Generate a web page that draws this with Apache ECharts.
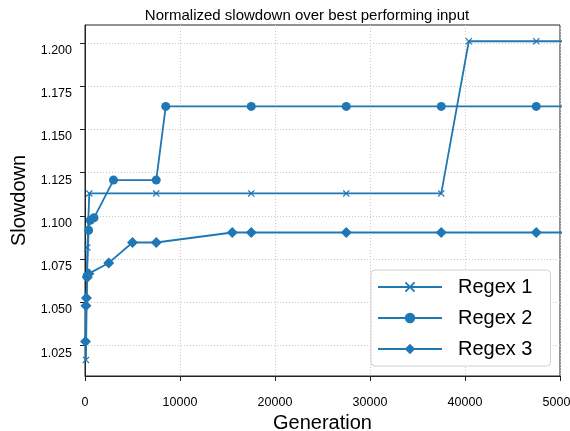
<!DOCTYPE html>
<html>
<head>
<meta charset="utf-8">
<script src="https://cdn.jsdelivr.net/npm/echarts@6/dist/echarts.min.js"></script>
<style>html,body{margin:0;padding:0;background:#fff}#c{width:570px;height:431px}</style>
</head>
<body>
<div id="c"></div>
<script>
const titleText = 'Normalized slowdown over best performing input';
const xName = 'Generation';
const yName = 'Slowdown';
const seriesNames = ['Regex 1', 'Regex 2', 'Regex 3'];
const yTicks = [1.025, 1.050, 1.075, 1.100, 1.125, 1.150, 1.175, 1.200];

const regex1 = [[100,1.0167],[250,1.0817],[450,1.113],[7500,1.113],[17500,1.113],[27500,1.113],[37500,1.113],[40400,1.201],[47500,1.201],[57500,1.201]];
const regex2 = [[200,1.065],[380,1.0917],[550,1.0975],[950,1.0989],[3000,1.1207],[7500,1.1207],[8500,1.1633],[17500,1.1633],[27500,1.1633],[37500,1.1633],[47500,1.1633],[57500,1.1633]];
const regex3 = [[50,1.0273],[100,1.048],[150,1.0525],[250,1.0645],[400,1.0666],[2500,1.0728],[5000,1.0846],[7500,1.0846],[15500,1.0904],[17500,1.0904],[27500,1.0904],[37500,1.0904],[47500,1.0904],[57500,1.0904]];

const color = '#1f77b4';
const font = 'Liberation Sans, Arial, Helvetica, sans-serif';
const xSym = 'path://M0,1.2L1.2,0L5,3.8L8.8,0L10,1.2L6.2,5L10,8.8L8.8,10L5,6.2L1.2,10L0,8.8L3.8,5Z';

function mk(name, data, symbol, size) {
  return {
    name, type: 'line', data, symbol, symbolSize: size, showSymbol: true,
    clip: true,
    lineStyle: { color, width: 1.8 },
    itemStyle: { color },
    emphasis: { disabled: true }
  };
}

const chart = echarts.init(document.getElementById('c'), null, { renderer: 'canvas' });
chart.setOption({
  animation: false,
  textStyle: { fontFamily: font },
  title: {
    text: titleText, left: 302, top: 3, textAlign: 'center',
    textStyle: { fontFamily: font, fontSize: 15, fontWeight: 'normal', color: '#000' }
  },
  grid: { left: 85, right: 10, top: 25, bottom: 55, show: true, borderColor: '#222', borderWidth: 1,
    backgroundColor: 'transparent', containLabel: false, outerBoundsMode: 'none' },
  legend: {
    orient: 'vertical', left: 371, top: 270,
    data: seriesNames,
    itemWidth: 64, itemHeight: 13, itemGap: 11,
    padding: [7, 18, 7, 6],
    backgroundColor: '#fff', borderColor: '#d0d0d0', borderWidth: 1, borderRadius: 4,
    textStyle: { fontFamily: font, fontSize: 20, color: '#000', lineHeight: 20, padding: [0, 0, 0, 11] }
  },
  xAxis: {
    type: 'value', min: 0, max: 50000, interval: 10000,
    name: xName, nameLocation: 'middle', nameGap: 37,
    nameTextStyle: { fontFamily: font, fontSize: 20, color: '#000' },
    axisLine: { show: true, lineStyle: { color: '#222', width: 1 } },
    axisTick: { show: true, inside: false, length: 5, lineStyle: { color: '#222' } },
    axisLabel: { fontFamily: font, fontSize: 12.5, color: '#000', margin: 20, formatter: v => String(v) },
    splitLine: { show: true, lineStyle: { color: '#c8c8c8', type: [1, 2], width: 1 } }
  },
  yAxis: {
    type: 'value', min: 1.0074, max: 1.2104,
    name: yName, nameLocation: 'middle', nameGap: 53,
    nameTextStyle: { fontFamily: font, fontSize: 20, color: '#000' },
    axisLine: { show: true, lineStyle: { color: '#222', width: 1 } },
    axisTick: { show: true, inside: false, length: 5, lineStyle: { color: '#222' }, customValues: yTicks },
    axisLabel: { fontFamily: font, fontSize: 12.5, color: '#000', margin: 13, verticalAlign: 'top', lineHeight: 15,
      customValues: yTicks, formatter: v => v.toFixed(3) },
    splitLine: { show: true, lineStyle: { color: '#c8c8c8', type: [1, 2], width: 1 } }
  },
  series: [
    mk(seriesNames[0], regex1, xSym, 7),
    mk(seriesNames[1], regex2, 'circle', 9),
    mk(seriesNames[2], regex3, 'diamond', 11)
  ]
});
</script>
</body>
</html>
